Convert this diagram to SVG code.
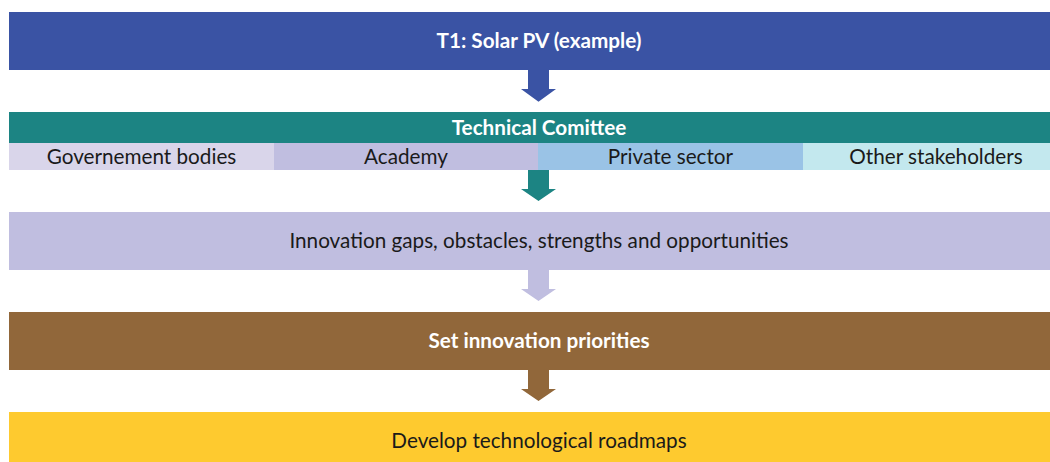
<svg xmlns="http://www.w3.org/2000/svg" width="1050" height="462" viewBox="0 0 1050 462">
<style>
text{font-family:Lato,"Open Sans","Liberation Sans",sans-serif;text-anchor:middle;dominant-baseline:central}
.b{font-weight:bold;fill:#ffffff;font-size:20.7px}
.r{fill:#1a1a1a;font-size:20.7px}
</style>
<rect width="1050" height="462" fill="#ffffff"/>
<g id="connectors">
<path d="M528 70H549V89H556L538.5 101.7L521 89H528Z" fill="#3A53A4"/>
<path d="M528 170H549V189H556L538.5 201L521 189H528Z" fill="#1C8483"/>
<path d="M528 270H549V289H556L538.5 301L521 289H528Z" fill="#C0BEE0"/>
<path d="M528 370H549V389H556L538.5 401L521 389H528Z" fill="#91673A"/>
</g>
<g id="n1"><rect x="9" y="12" width="1060" height="58" fill="#3A53A4"/><text class="b" x="539" y="40">T1: Solar PV (example)</text></g>
<g id="n2"><rect x="9" y="112" width="1060" height="31" fill="#1C8483"/><text class="b" x="539" y="126.5">Technical Comittee</text></g>
<g id="n2a"><rect x="9" y="143" width="265" height="27" fill="#D9D5EA"/><text class="r" x="141.5" y="155.5">Governement bodies</text></g>
<g id="n2b"><rect x="274" y="143" width="264" height="27" fill="#C0BEE0"/><text class="r" x="406" y="155.5">Academy</text></g>
<g id="n2c"><rect x="538" y="143" width="265" height="27" fill="#9AC3E6"/><text class="r" x="670.5" y="155.5">Private sector</text></g>
<g id="n2d"><rect x="803" y="143" width="266" height="27" fill="#C3E8EE"/><text class="r" x="936" y="155.5">Other stakeholders</text></g>
<g id="n3"><rect x="9" y="212" width="1060" height="58" fill="#C0BEE0"/><text class="r" x="539" y="240">Innovation gaps, obstacles, strengths and opportunities</text></g>
<g id="n4"><rect x="9" y="312" width="1060" height="58" fill="#91673A"/><text class="b" x="539" y="340">Set innovation priorities</text></g>
<g id="n5"><rect x="9" y="412" width="1060" height="58" fill="#FECA2F"/><text class="r" x="539" y="440">Develop technological roadmaps</text></g>
</svg>
